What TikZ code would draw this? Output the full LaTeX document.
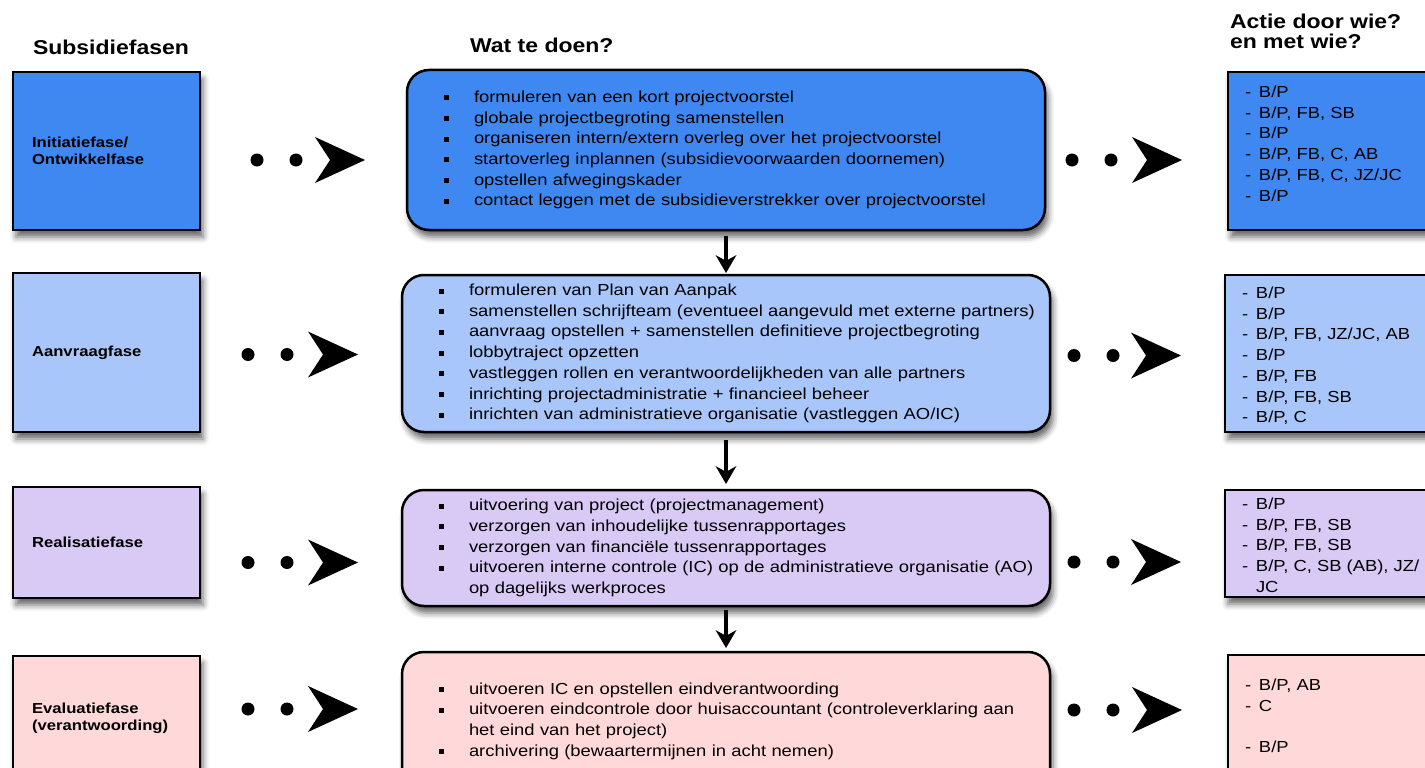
\documentclass[tikz,border=0pt]{standalone}
\usepackage{fontspec}
\setmainfont[FakeStretch=1.15]{Liberation Sans}
\usetikzlibrary{positioning}
\usetikzlibrary{arrows.meta}
\usetikzlibrary{shadows.blur}

\definecolor{blauw}{RGB}{63,136,242}
\definecolor{lichtblauw}{RGB}{169,198,250}
\definecolor{lila}{RGB}{217,201,245}
\definecolor{roze}{RGB}{255,217,217}

\newcommand{\kopfont}{\bfseries\fontsize{20}{20}\selectfont}
\newcommand{\fasefont}{\bfseries\fontsize{14.5}{16.7}\selectfont}
\newcommand{\lijstfont}{\fontsize{16}{20.7}\selectfont}
% regel met blokje
\newcommand{\pnt}[1]{\mbox{\makebox[30pt][l]{\raisebox{2pt}{\rule{5pt}{5pt}}}#1}}
\newcommand{\verder}[1]{\mbox{\hspace*{30pt}#1}}
% regel met streepje
\newcommand{\actor}[1]{\mbox{\makebox[14pt][l]{-}#1}}
\newcommand{\wielijst}[2]{\parbox[c][#1][t]{182pt}{\raggedright #2}}

\begin{document}
\begin{tikzpicture}
[
x=1pt, y=-1pt,
% algemeen
every node/.style={outer sep=0, inner sep=0},
% schaduw
schaduw/.style={blur shadow={shadow xshift=3pt, shadow yshift=-7pt, shadow blur radius=6pt, shadow opacity=60}},
% fase links
fase/.style={rectangle, draw, line width=2.5pt, anchor=north west, minimum width=187pt,
text width=149pt, inner xsep=19pt, align=left, font=\fasefont, schaduw},
% taken midden
taak/.style={rectangle, rounded corners=22pt, draw, line width=2.5pt, anchor=north west,
inner xsep=37pt, align=left, font=\lijstfont, schaduw},
% actie rechts
actie/.style={rectangle, draw, line width=2.5pt, anchor=north west, inner xsep=17pt,
inner ysep=12pt, font=\lijstfont, schaduw},
% kopjes
kop/.style={anchor=base west, align=left, font=\kopfont},
% stippen met pijlpunt
stip/.style={line width=13pt, line cap=round, dash pattern=on 0pt off 39pt,
-{Stealth[length=50pt, width=46pt, inset=15pt, line width=0pt]}},
% pijl omlaag
pijl/.style={line width=4pt, -{Stealth[length=18pt, width=21pt, line width=0pt]}}
]
\useasboundingbox (0,0) rectangle (1425,768);

% kopjes
\node [kop] (kop1) at (33,55) {Subsidiefasen};
\node [kop] (kop2) at (470,53) {Wat te doen?};
\node [kop, anchor=north west] (kop3) at (1230,14) {Actie door wie?\\en met wie?};

% fasen
\node [fase, fill=blauw, minimum height=158pt] (fase1) at (13,72) {Initiatiefase/\\Ontwikkelfase};
\node [fase, fill=lichtblauw, minimum height=159pt] (fase2) at (13,273) {Aanvraagfase};
\node [fase, fill=lila, minimum height=111pt] (fase3) at (13,487) {Realisatiefase};
\node [fase, fill=roze, minimum height=124pt] (fase4) at (13,656) {Evaluatiefase\\(verantwoording)};

% wat te doen
\node [taak, fill=blauw, minimum height=160pt, text width=564pt] (taak1) at (407,70) {%
\pnt{formuleren van een kort projectvoorstel}\\
\pnt{globale projectbegroting samenstellen}\\
\pnt{organiseren intern/extern overleg over het projectvoorstel}\\
\pnt{startoverleg inplannen (subsidievoorwaarden doornemen)}\\
\pnt{opstellen afwegingskader}\\
\pnt{contact leggen met de subsidieverstrekker over projectvoorstel}};
\node [taak, fill=lichtblauw, minimum height=157pt, text width=574pt] (taak2) at (402,275) {%
\pnt{formuleren van Plan van Aanpak}\\
\pnt{samenstellen schrijfteam (eventueel aangevuld met externe partners)}\\
\pnt{aanvraag opstellen + samenstellen definitieve projectbegroting}\\
\pnt{lobbytraject opzetten}\\
\pnt{vastleggen rollen en verantwoordelijkheden van alle partners}\\
\pnt{inrichting projectadministratie + financieel beheer}\\
\pnt{inrichten van administratieve organisatie (vastleggen AO/IC)}};
\node [taak, fill=lila, minimum height=116pt, text width=574pt] (taak3) at (402,490) {%
\pnt{uitvoering van project (projectmanagement)}\\
\pnt{verzorgen van inhoudelijke tussenrapportages}\\
\pnt{verzorgen van financiële tussenrapportages}\\
\pnt{uitvoeren interne controle (IC) op de administratieve organisatie (AO)}\\
\verder{op dagelijks werkproces}};
\node [taak, fill=roze, minimum height=138pt, text width=574pt] (taak4) at (402,652) {%
\pnt{uitvoeren IC en opstellen eindverantwoording}\\
\pnt{uitvoeren eindcontrole door huisaccountant (controleverklaring aan}\\
\verder{het eind van het project)}\\
\pnt{archivering (bewaartermijnen in acht nemen)}};

% wie
\node [actie, fill=blauw, inner ysep=14pt] (actie1) at (1228,72) {\wielijst{130pt}{%
\actor{B/P}\\ \actor{B/P, FB, SB}\\ \actor{B/P}\\ \actor{B/P, FB, C, AB}\\
\actor{B/P, FB, C, JZ/JC}\\ \actor{B/P}}};
\node [actie, fill=lichtblauw] (actie2) at (1225,275) {\wielijst{133pt}{%
\actor{B/P}\\ \actor{B/P}\\ \actor{B/P, FB, JZ/JC, AB}\\ \actor{B/P}\\
\actor{B/P, FB}\\ \actor{B/P, FB, SB}\\ \actor{B/P, C}}};
\node [actie, fill=lila, inner ysep=8pt] (actie3) at (1225,490) {\wielijst{91pt}{%
\actor{B/P}\\ \actor{B/P, FB, SB}\\ \actor{B/P, FB, SB}\\ \actor{B/P, C, SB (AB), JZ/}\\
\mbox{\hspace*{14pt}JC}}};
\node [actie, fill=roze] (actie4) at (1228,655) {\wielijst{111pt}{%
\vspace*{12pt}\actor{B/P, AB}\\ \actor{C}\\ \mbox{}\\ \actor{B/P}}};

% stippen links
\draw [stip, shorten <=57pt, shorten >=42pt] ([yshift=-9pt]fase1.east) -- ([yshift=-9pt]fase1.east -| taak1.west);
\draw [stip, shorten <=48pt, shorten >=44pt] ([yshift=-2pt]fase2.east) -- ([yshift=-2pt]fase2.east -| taak2.west);
\draw [stip, shorten <=48pt, shorten >=44pt] ([yshift=-20pt]fase3.east) -- ([yshift=-20pt]fase3.east -| taak3.west);
\draw [stip, shorten <=48pt, shorten >=44pt] ([yshift=9pt]fase4.east) -- ([yshift=9pt]fase4.east -| taak4.west);
% stippen rechts
\draw [stip, shorten <=27pt, shorten >=46pt] ([yshift=-10pt]taak1.east) -- ([yshift=-10pt]taak1.east -| actie1.west);
\draw [stip, shorten <=24pt, shorten >=44pt] ([yshift=-2pt]taak2.east) -- ([yshift=-2pt]taak2.east -| actie2.west);
\draw [stip, shorten <=24pt, shorten >=44pt] ([yshift=-14pt]taak3.east) -- ([yshift=-14pt]taak3.east -| actie3.west);
\draw [stip, shorten <=24pt, shorten >=46pt] ([yshift=11pt]taak4.east) -- ([yshift=11pt]taak4.east -| actie4.west);

% pijlen omlaag
\draw [pijl, shorten <=6pt, shorten >=2pt] (taak1.south) -- (taak1.south |- taak2.north);
\draw [pijl, shorten <=8pt, shorten >=6pt] (taak2.south) -- (taak2.south |- taak3.north);
\draw [pijl, shorten <=4pt, shorten >=4pt] (taak3.south) -- (taak3.south |- taak4.north);
\end{tikzpicture}
\end{document}
